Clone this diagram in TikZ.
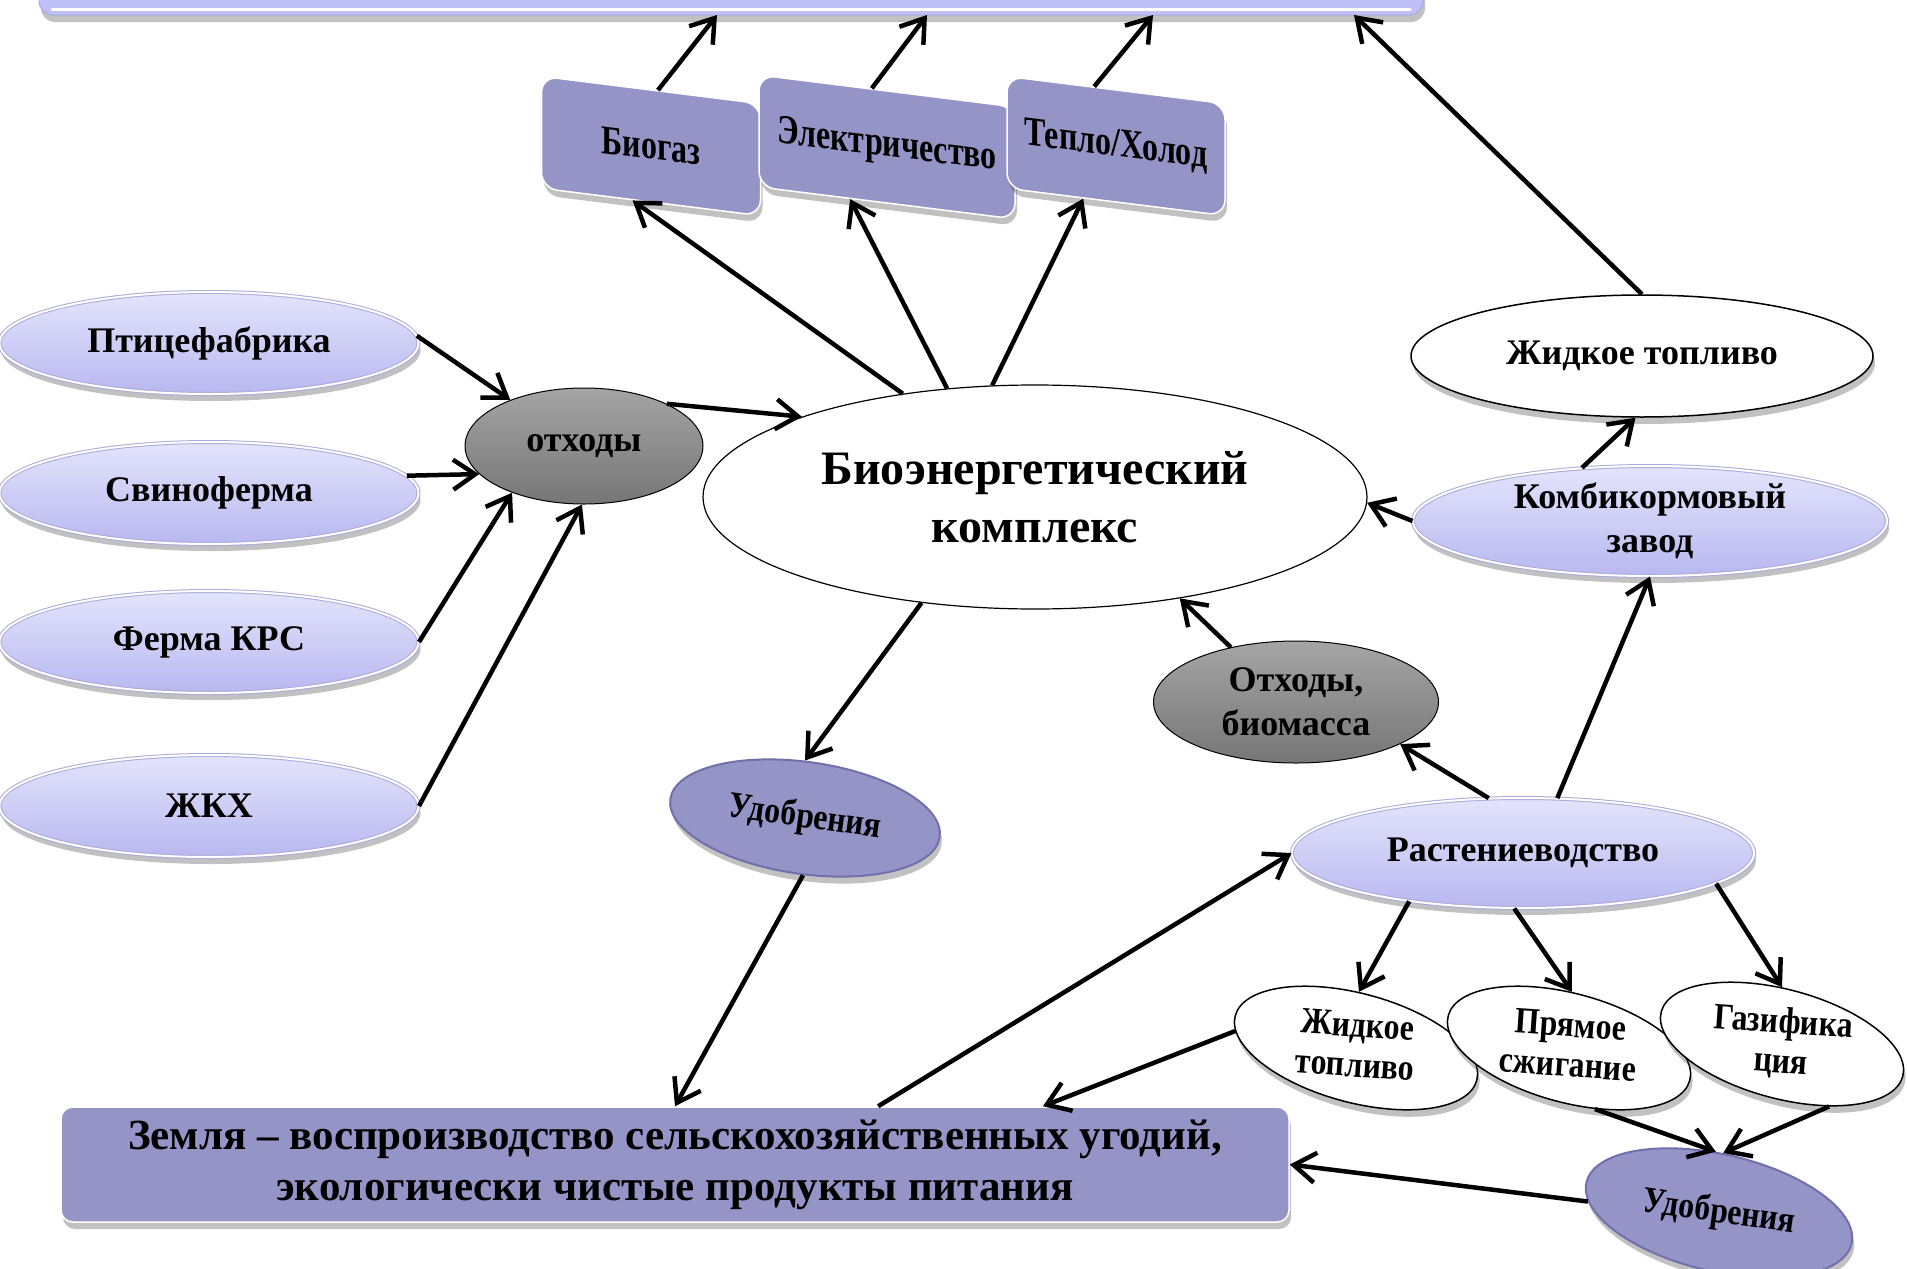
\documentclass[tikz,border=0pt]{standalone}
\usepackage{fontspec}
\setmainfont{Liberation Serif}
\newfontfamily\condf{Liberation Serif}[FakeStretch=0.78]
\newfontfamily\condg{Liberation Serif}[FakeStretch=0.86]
\usetikzlibrary{arrows.meta,shapes.geometric,shadows,calc}
\definecolor{lavtop}{RGB}{228,228,252}
\definecolor{lavbot}{RGB}{184,184,240}
\definecolor{lavedge}{RGB}{170,170,220}
\definecolor{purp}{RGB}{148,148,198}
\definecolor{purpdark}{RGB}{112,112,172}
\definecolor{graytop}{RGB}{165,165,165}
\definecolor{graybot}{RGB}{118,118,118}
\definecolor{bartop}{RGB}{192,192,248}
\newcommand{\fbig}{\fontsize{48}{58}\selectfont\bfseries}
\newcommand{\fmid}{\fontsize{36}{44}\selectfont\bfseries}
\newcommand{\fboxlbl}{\condf\fontsize{41}{48}\selectfont\bfseries}
\newcommand{\fsml}{\condg\fontsize{37}{44}\selectfont\bfseries}
\newcommand{\fland}{\fontsize{43}{51}\selectfont\bfseries}
\begin{document}
\begin{tikzpicture}[x=1pt,y=-1pt,
  shd/.style={drop shadow={shadow xshift=2pt,shadow yshift=-7pt,opacity=0.35,fill=black!70}},
  lav/.style={ellipse,inner sep=0pt,top color=lavtop,bottom color=lavbot,draw=lavedge,double=white,double distance=2pt,line width=1pt,shd,font=\fmid,align=center},
  wht/.style={ellipse,inner sep=0pt,fill=white,draw=black,line width=1.5pt,align=center},
  gry/.style={ellipse,inner sep=0pt,top color=graytop,bottom color=graybot,draw=black,line width=1pt,font=\fmid,align=center},
  purpell/.style={ellipse,inner sep=0pt,fill=purp,draw=purpdark,line width=2pt,shd,font=\fsml,align=center},
  pbox/.style={rectangle,rounded corners=16pt,fill=purp,draw=white,line width=1.5pt,shd,font=\fboxlbl,align=center,yslant=-0.125,minimum height=112pt},
  smallw/.style={wht,rotate=-15,minimum width=250pt,minimum height=109pt,shd,inner sep=-32pt},
  arr/.style={line width=4.5pt,-{Straight Barb[length=22pt,width=30pt]}}
]
\useasboundingbox (0,0) rectangle (1907,1269);

% top bar
\node[rectangle,rounded corners=14pt,fill=bartop,draw=lavedge,line width=1pt,shd,minimum width=1384pt,minimum height=80pt] (bar) at (731,-25) {};
\draw[white,line width=3pt,line cap=round] (52,9) -- (1410,9);
\coordinate (t1) at (717,15);
\coordinate (t2) at (927,15);
\coordinate (t3) at (1153,15);
\coordinate (t4) at (1354,15);

% boxes
\node[pbox,minimum width=219pt] (bg) at (651,146) {Биогаз};
\node[pbox,minimum width=256pt] (el) at (887,147) {Электричество};
\node[pbox,minimum width=218pt] (tep) at (1116,146) {Тепло/Холод};

% central
\node[wht,line width=1.2pt,minimum width=664pt,minimum height=224pt,font=\fbig] (bio) at (1035,497) {Биоэнергетический\\комплекс};

% left
\node[lav,minimum width=419pt,minimum height=102pt] (pt) at (209,343) {Птицефабрика};
\node[lav,minimum width=419pt,minimum height=102pt] (sv) at (209,493) {Свиноферма};
\node[lav,minimum width=419pt,minimum height=102pt] (krs) at (209,642) {Ферма КРС};
\node[lav,minimum width=419pt,minimum height=102pt] (zkh) at (209,806) {ЖКХ};
\node[gry,minimum width=238pt,minimum height=116pt] (otx) at (584,446) {отходы};

% right
\node[wht,shd,minimum width=462pt,minimum height=122pt,font=\fontsize{36}{42}\selectfont\bfseries] (zt) at (1642,356) {Жидкое топливо};
\node[lav,inner ysep=-14pt,minimum width=474pt,minimum height=110pt,font=\fontsize{36}{44}\selectfont\bfseries] (komb) at (1650,521) {Комбикормовый\\завод};
\node[gry,inner ysep=-14pt,minimum width=285pt,minimum height=122pt] (ob) at (1296,702) {Отходы,\\биомасса};
\node[lav,minimum width=462pt,minimum height=110pt,font=\fontsize{36}{44}\selectfont\bfseries] (rast) at (1523,853) {Растениеводство};

\node[smallw] (zt2) at (1356,1048) {\rotatebox{11}{\fsml\begin{tabular}{@{}c@{}}Жидкое\\[-4pt]топливо\end{tabular}}};
\node[smallw] (pr) at (1569,1048) {\rotatebox{11}{\fsml\begin{tabular}{@{}c@{}}Прямое\\[-4pt]сжигание\end{tabular}}};
\node[smallw] (gz) at (1782,1044) {\rotatebox{11}{\fsml\begin{tabular}{@{}c@{}}Газифика\\[-4pt]ция\end{tabular}}};

\node[purpell,rotate=-8,minimum width=272pt,minimum height=112pt] (ud1) at (805,818) {Удобрения};
\node[purpell,rotate=-13,minimum width=272pt,minimum height=117pt] (ud2) at (1719,1213) {\rotatebox{5}{Удобрения}};

% land
\node[rectangle,rounded corners=12pt,fill=purp,draw=white,line width=1.5pt,shd,minimum width=1228pt,minimum height=115pt,font=\fland,align=center] (zem) at (675,1164.5) {Земля – воспроизводство сельскохозяйственных угодий,\\экологически чистые продукты питания};

% arrows
\draw[arr] (pt.2) -- (otx.148);
\draw[arr] (sv.5) -- (otx.195);
\draw[arr] (krs.east) -- (otx.213);
\draw[arr] (zkh.east) -- (otx.268);
\draw[arr] (otx.27) -- (bio.161);

\draw[arr] (bio.142) -- (bg.252);
\draw[arr] (bio.129) -- (el.237);
\draw[arr] (bio.111) -- (tep.240);
\draw[arr] (bg.83) -- (t1);
\draw[arr] (el.105) -- (t2);
\draw[arr] (tep.111) -- (t3);
\draw[arr] (zt.north) -- (t4);

\draw[arr] (komb.142) -- (zt.264);
\draw[arr] (komb.west) -- (bio.359);
\draw[arr] (ob.140) -- (bio.325);
\draw[arr] (rast.122) -- (ob.338);
\draw[arr] (rast.58) -- (komb.south);

\draw[arr] (rast.203) -- (zt2.102);
\draw[arr] (rast.261) -- (pr.102);
\draw[arr] (rast.351) -- (gz.105);
\draw[arr] (pr.308) -- (ud2.106);
\draw[arr] (gz.322) -- (ud2.99);
\draw[arr] (ud2.188) -- (zem.east);
\draw[arr] (zt2.187) -- (zem.9.4);

\draw[arr] (bio.223) -- (ud1.98);
\draw[arr] (ud1.276) -- (zem.north);
\draw[arr] (zem.16) -- (rast.west);
\end{tikzpicture}
\end{document}
